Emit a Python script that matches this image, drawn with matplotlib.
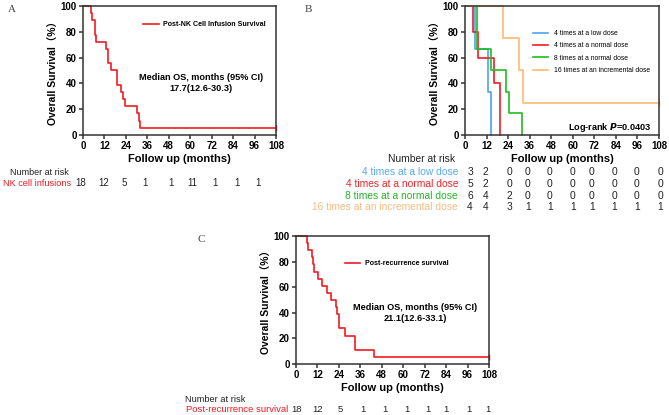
import matplotlib
matplotlib.use("Agg")
import matplotlib.pyplot as plt
from matplotlib.transforms import blended_transform_factory

plt.rcParams['font.family'] = ['Liberation Sans', 'Noto Sans CJK SC', 'DejaVu Sans']

# ---- data (step times in months, survival in %) ----
a_t = [0, 4.5, 5.2, 6.5, 7.4, 12.7, 14.0, 15.8, 19.0, 21.2, 22.3, 23.6, 30.2, 31.1, 32.0, 108]
a_s = [100, 94.4, 88.9, 77.8, 72.2, 66.7, 55.6, 50.0, 38.9, 33.3, 27.8, 22.2, 16.7, 11.1, 5.6, 5.6]

b_low_t = [0, 5.6, 12.6, 14.5]
b_low_s = [100, 66.7, 33.3, 0]
b_norm4_t = [0, 4.6, 7.4, 16.2, 19.5]
b_norm4_s = [100, 80, 60, 40, 0]
b_norm8_t = [0, 6.9, 14.3, 22.8, 24.5, 31.5]
b_norm8_s = [100, 66.7, 50, 33.3, 16.7, 0]
b_inc_t = [0, 21.3, 30.2, 32.1, 108]
b_inc_s = [100, 75, 50, 25, 25]

c_t = [0, 6.0, 6.9, 8.8, 9.3, 10.1, 12.5, 14.3, 17.5, 19.4, 22.2, 22.7, 24.2, 27.6, 33.0, 43.6, 108]
c_s = [100, 94.4, 88.9, 83.3, 77.8, 72.2, 66.7, 61.1, 55.6, 50.0, 44.4, 38.9, 27.8, 22.2, 11.1, 5.6, 5.6]

risk_a = ['18', '12', '5', '1', '1', '11', '1', '1', '1']
risk_b = {
    '4 times at a low dose': ['3', '2', '0', '0', '0', '0', '0', '0', '0', '0'],
    '4 times at a normal dose': ['5', '2', '0', '0', '0', '0', '0', '0', '0', '0'],
    '8 times at a normal dose': ['6', '4', '2', '0', '0', '0', '0', '0', '0', '0'],
    '16 times at an incremental dose': ['4', '4', '3', '1', '1', '1', '1', '1', '1', '1'],
}
risk_c = ['18', '12', '5', '1', '1', '1', '1', '1', '1', '1']

RED = '#f01c24'
BLUE = '#4da3f5'
GREEN = '#1fbd1f'
ORANGE = '#ffb972'
b_colors = [BLUE, RED, GREEN, ORANGE]
b_text_colors = ['#5aa9ef', '#f5262b', '#26b526', '#f7bd84']

W, H = 669, 415
fig = plt.figure(figsize=(W / 100, H / 100), dpi=100)


def fx(px):
    return px / W


def fy(py):
    return 1 - py / H


def make_ax(left, top, right, bottom):
    ax = fig.add_axes([fx(left), fy(bottom), fx(right - left), (bottom - top) / H])
    ax.set_xlim(0, 108)
    ax.set_ylim(0, 100)
    ax.set_xticks(range(0, 109, 12))
    ax.set_yticks(range(0, 101, 20))
    for sp in ax.spines.values():
        sp.set_linewidth(1.1)
        sp.set_color('#333333')
    ax.tick_params(direction='out', length=3, width=1.1, pad=1.5, labelsize=7, color='#333333')
    for lab in ax.get_xticklabels() + ax.get_yticklabels():
        lab.set_fontweight('bold')
    ax.set_xlabel('Follow up (months)', fontsize=8, fontweight='bold', labelpad=2)
    ax.set_ylabel('Overall Survival（%）', fontsize=7.5, fontweight='bold', labelpad=1)
    return ax


def km(ax, t, s, color, label, censor=True):
    ax.step(t, s, where='post', color=color, lw=1.2, label=label, clip_on=False)
    if censor and s[-1] > 0:
        ax.plot([t[-1]], [s[-1]], marker='|', color=color, ms=4, mew=1.0, clip_on=False)


# ---- panel A ----
axA = make_ax(83, 6, 276, 135)
km(axA, a_t, a_s, RED, 'Post-NK Cell Infusion Survival')
axA.legend(handles=[axA.lines[0]], loc='upper left', bbox_to_anchor=(0.28, 0.93), frameon=False,
           handlelength=2.2, handletextpad=0.6, prop={'weight': 'bold', 'size': 5.1})
fig.text(fx(201), fy(83), 'Median OS, months (95% CI)\n17.7(12.6-30.3)', ha='center', va='center',
         fontsize=6.6, fontweight='bold', linespacing=1.3)
fig.text(fx(12), fy(9), 'A', family='Liberation Serif', fontsize=8, color='#444444', ha='center', va='center')

trA = blended_transform_factory(axA.transData, fig.transFigure)
pos_a = [-1.5, 11.3, 23, 34.7, 49.2, 61, 73.9, 86.2, 97.9]
fig.text(fx(10), fy(172), 'Number at risk', fontsize=6.5, va='center', color='#222222')
fig.text(fx(71), fy(183), 'NK cell infusions', fontsize=6.6, va='center', ha='right', color=RED)
for x, v in zip(pos_a, risk_a):
    axA.text(x, fy(183), v, transform=trA, fontsize=7, va='center', ha='center', color='#222222')

# ---- panel B ----
axB = make_ax(465, 6, 659, 135)
b_series = [(b_low_t, b_low_s), (b_norm4_t, b_norm4_s), (b_norm8_t, b_norm8_s), (b_inc_t, b_inc_s)]
handles = []
for (t, s), col, name in zip(b_series, b_colors, risk_b.keys()):
    km(axB, t, s, col, name)
    handles.append(axB.lines[-2] if s[-1] > 0 else axB.lines[-1])
axB.legend(handles=handles, loc='upper left', bbox_to_anchor=(0.32, 0.86), frameon=False,
           handlelength=2.2, handletextpad=0.8, labelspacing=0.78, prop={'size': 4.9})
fig.text(fx(651), fy(128), 'Log-rank $\\boldsymbol{P}$=0.0403', ha='right', va='center',
         fontsize=6.6, fontweight='bold')
fig.text(fx(308), fy(9), 'B', family='Liberation Serif', fontsize=8, color='#444444', ha='center', va='center')

trB = blended_transform_factory(axB.transData, fig.transFigure)
pos_b = [2.8, 11.5, 24.5, 34.9, 47.3, 60, 70.7, 83, 95.6, 108.6]
fig.text(fx(455), fy(159), 'Number at risk', fontsize=7.4, va='center', ha='right', color='#222222')
for row_y, (name, vals), tc in zip([172, 184, 196, 207], risk_b.items(), b_text_colors):
    fig.text(fx(458), fy(row_y), name, fontsize=7.4, va='center', ha='right', color=tc)
    for x, v in zip(pos_b, vals):
        axB.text(x, fy(row_y), v, transform=trB, fontsize=7.4, va='center', ha='center', color='#222222')

# ---- panel C ----
axC = make_ax(296, 236, 489, 364)
km(axC, c_t, c_s, RED, 'Post-recurrence survival')
axC.legend(handles=[axC.lines[0]], loc='upper left', bbox_to_anchor=(0.22, 0.86), frameon=False,
           handlelength=2.2, handletextpad=0.6, prop={'weight': 'bold', 'size': 5.1})
fig.text(fx(415), fy(313), 'Median OS, months (95% CI)\n21.1(12.6-33.1)', ha='center', va='center',
         fontsize=6.6, fontweight='bold', linespacing=1.3)
fig.text(fx(201), fy(239), 'C', family='Liberation Serif', fontsize=8, color='#444444', ha='center', va='center')

trC = blended_transform_factory(axC.transData, fig.transFigure)
pos_c = [0.4, 12.3, 24.6, 37.5, 49.8, 61.9, 73.6, 83.7, 96.8, 107.5]
fig.text(fx(185), fy(399), 'Number at risk', fontsize=6.7, va='center', color='#222222')
fig.text(fx(288), fy(409), 'Post-recurrence survival', fontsize=6.8, va='center', ha='right', color=RED)
for x, v in zip(pos_c, risk_c):
    axC.text(x, fy(409), v, transform=trC, fontsize=6.8, va='center', ha='center', color='#222222')

fig.savefig('out.png', dpi=100)
